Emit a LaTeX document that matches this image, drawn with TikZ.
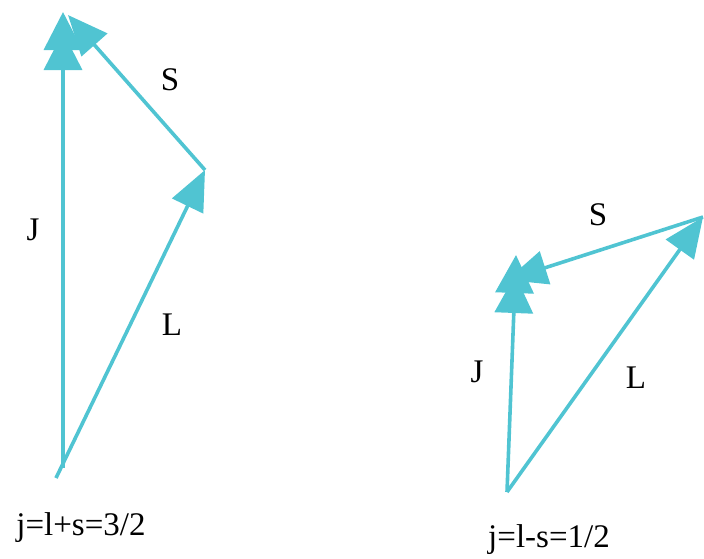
\documentclass[tikz,border=0pt]{standalone}
\usepackage{fontspec}
\setmainfont{Liberation Serif}
\usepackage{xcolor}
\usetikzlibrary{arrows.meta, positioning}
\definecolor{vecazul}{RGB}{80,196,210}

\begin{document}
\begin{tikzpicture}[
	x=0.5pt, y=-0.5pt,
	vec/.style={vecazul, line width=1.8pt, -{Triangle[length=20pt,width=17pt]}},
	vecj/.style={vecazul, line width=1.8pt,
		-{Triangle[length=19pt,width=19pt,sep=-9pt]Triangle[length=19pt,width=19pt]}},
	etiq/.style={font=\fontsize{16.5}{20}\selectfont, inner sep=0pt}
	]
	
	\useasboundingbox (0,0) rectangle (704,558);
	
	% Caso j=l+s
	\coordinate (O1) at (56,478);
	\coordinate (P1) at (63,468);
	\coordinate (L1) at (205,170);
	\coordinate (J1) at (63,12);
	\coordinate (S1) at (68,15);
	
	\draw[vec] (O1) -- (L1);
	\draw[vec] (L1) -- (S1);
	\draw[vecj] (P1) -- (J1);
	
	% Caso j=l-s
	\coordinate (O2) at (507,492);
	\coordinate (L2) at (703,217);
	\coordinate (J2) at (516,255);
	\coordinate (S2) at (507,280);
	
	\draw[vec] (O2) -- (L2);
	\draw[vec] (L2) -- (S2);
	\draw[vecj] (O2) -- (J2);
	
	% Etiquetas
	\node[etiq] (s1) at (170,80) {S};
	\node[etiq] (j1) at (33,230) {J};
	\node[etiq] (l1) at (172,325) {L};
	\node[etiq] (s2) at (598,215) {S};
	\node[etiq] (j2) at (477,372) {J};
	\node[etiq] (l2) at (636,378) {L};
	\node[etiq] (r1) at (81,528) {j=l+s=3/2};
	\node[etiq] (r2) at (549,540) {j=l-s=1/2};
	
\end{tikzpicture}
\end{document}
